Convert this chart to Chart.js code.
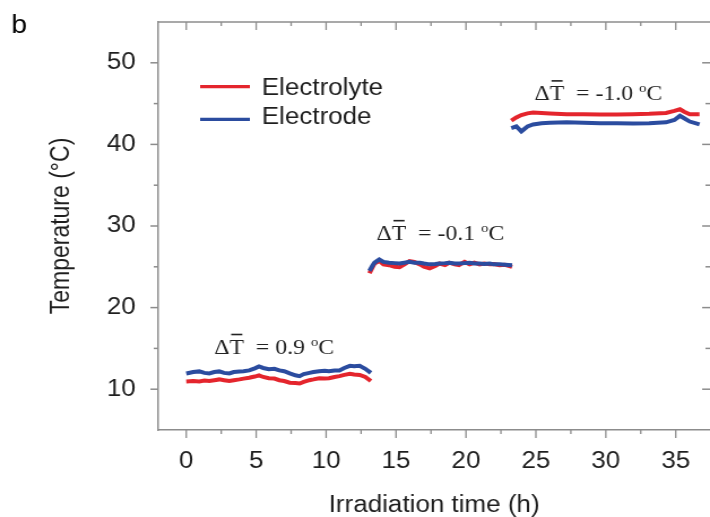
<!DOCTYPE html>
<html>
<head>
<meta charset="utf-8">
<script src="https://cdn.jsdelivr.net/npm/chart.js@4.4.1/dist/chart.umd.min.js"></script>
<style>
  html, body { margin: 0; padding: 0; background: #fff; overflow: hidden; }
</style>
</head>
<body>
<!-- the source figure is stretched sideways, so the canvas is too -->
<canvas id="chart" width="628" height="517" style="width:710px;height:517px;display:block"></canvas>
<script>
// ---- data (hours, degC) ----
const seg1Time = [0.0, 0.5, 0.93, 1.3, 1.65, 2.0, 2.36, 2.7, 3.08, 3.4, 3.8, 4.1, 4.5, 4.9, 5.2, 5.5, 5.9, 6.3, 6.66, 7.0, 7.4, 7.8, 8.1, 8.4, 8.8, 9.1, 9.5, 9.9, 10.2, 10.6, 10.95, 11.3, 11.7, 12.0, 12.4, 12.8, 13.2];
const seg1Electrolyte = [10.95, 11.0, 10.95, 11.05, 11.0, 11.1, 11.2, 11.1, 11.0, 11.1, 11.2, 11.3, 11.4, 11.55, 11.7, 11.5, 11.35, 11.3, 11.1, 11.0, 10.8, 10.75, 10.7, 10.9, 11.1, 11.2, 11.35, 11.3, 11.35, 11.5, 11.6, 11.75, 11.9, 11.8, 11.75, 11.5, 11.0];
const seg1Electrode = [11.93, 12.1, 12.18, 12.0, 11.93, 12.1, 12.18, 12.0, 11.93, 12.1, 12.18, 12.2, 12.3, 12.55, 12.78, 12.6, 12.45, 12.5, 12.3, 12.2, 11.93, 11.7, 11.6, 11.85, 12.0, 12.1, 12.2, 12.25, 12.2, 12.3, 12.3, 12.6, 12.86, 12.8, 12.86, 12.5, 12.0];

const seg2Time = [13.1, 13.3, 13.46, 13.8, 14.1, 14.5, 14.9, 15.25, 15.6, 15.96, 16.3, 16.7, 17.0, 17.4, 17.8, 18.1, 18.5, 18.8, 19.2, 19.5, 19.9, 20.26, 20.6, 20.97, 21.3, 21.7, 22.0, 22.4, 22.8, 23.3];
const seg2Electrolyte = [24.2, 24.9, 25.4, 25.7, 25.3, 25.2, 25.0, 24.95, 25.3, 25.7, 25.6, 25.3, 25.0, 24.8, 25.1, 25.4, 25.2, 25.5, 25.3, 25.2, 25.6, 25.3, 25.5, 25.3, 25.4, 25.3, 25.35, 25.2, 25.25, 25.0];
const seg2Electrode = [24.5, 25.1, 25.5, 25.9, 25.6, 25.5, 25.45, 25.4, 25.5, 25.6, 25.5, 25.5, 25.4, 25.3, 25.35, 25.4, 25.45, 25.5, 25.4, 25.4, 25.45, 25.5, 25.4, 25.4, 25.35, 25.4, 25.3, 25.3, 25.25, 25.2];

const seg3Time = [23.24, 23.6, 23.96, 24.4, 24.8, 25.4, 26.0, 27.2, 28.4, 29.6, 30.8, 31.95, 33.1, 34.3, 34.9, 35.3, 35.6, 36.0, 36.7];
const seg3Electrolyte = [42.9, 43.3, 43.6, 43.8, 43.9, 43.85, 43.8, 43.7, 43.7, 43.65, 43.65, 43.7, 43.75, 43.85, 44.1, 44.3, 44.0, 43.7, 43.7];
const seg3Electrode = [42.0, 42.2, 41.6, 42.2, 42.45, 42.6, 42.65, 42.7, 42.65, 42.6, 42.6, 42.55, 42.6, 42.7, 43.0, 43.5, 43.2, 42.8, 42.45];

const seriesNames = ['Electrolyte', 'Electrode'];
const xTicks = [0, 5, 10, 15, 20, 25, 30, 35];
const yTicks = [10, 20, 30, 40, 50];

// mean difference labels, anchored at (time, temp) of their left baseline
const deltaLabels = ['0.9', '-0.1', '-1.0'];
const deltaTime = [2.0, 13.6, 24.9];
const deltaTemp = [14.35, 28.3, 45.43];

// ---- styles ----
const RED = '#e4252d';
const BLUE = '#2b4c9f';
const AXIS = '#8c8c8c';
const TEXT = '#1e1e1e';
const SANS = '"Liberation Sans", Arial, sans-serif';
const SERIF = '"Liberation Serif", "Times New Roman", serif';

function joinSegments(times, temps) {
  let out = [];
  times.forEach((t, k) => {
    if (k > 0) out.push({ x: t[0], y: null });
    t.forEach((v, i) => out.push({ x: v, y: temps[k][i] }));
  });
  return out;
}

const electrolyteData = joinSegments([seg1Time, seg2Time, seg3Time], [seg1Electrolyte, seg2Electrolyte, seg3Electrolyte]);
const electrodeData = joinSegments([seg1Time, seg2Time, seg3Time], [seg1Electrode, seg2Electrode, seg3Electrode]);

function seg(ctx, x1, y1, x2, y2) {
  ctx.beginPath(); ctx.moveTo(x1, y1); ctx.lineTo(x2, y2); ctx.stroke();
}

function drawDelta(ctx, x, y, value) {
  const big = '21px ' + SERIF, small = '13px ' + SERIF;
  ctx.font = big;
  ctx.fillText('\u0394', x, y);
  x += ctx.measureText('\u0394').width;
  const tw = ctx.measureText('T').width;
  ctx.fillText('T', x, y);
  ctx.fillRect(x + 1.5, y - 20, tw - 3, 1.6);   // bar over T
  x += tw;
  const mid = '  = ' + value + ' ';
  ctx.fillText(mid, x, y);
  x += ctx.measureText(mid).width;
  ctx.font = small;
  ctx.fillText('o', x, y - 8);
  x += ctx.measureText('o').width;
  ctx.font = big;
  ctx.fillText('C', x, y);
}

// tick labels would otherwise push the plot area in
function noEdgePadding(s) {
  s.paddingTop = 0; s.paddingBottom = 0; s.paddingLeft = 0; s.paddingRight = 0;
}

const framePlugin = {
  id: 'frame',
  afterDraw(chart) {
    const { ctx, chartArea: a, scales: { x, y } } = chart;
    ctx.save();
    ctx.strokeStyle = AXIS;
    ctx.lineWidth = 1.5;
    seg(ctx, a.left, a.top, a.right, a.top);

    // x ticks: out at the bottom, in at the top
    ctx.lineWidth = 1.3;
    for (let v = 0; v <= x.max; v += 2.5) {
      const px = x.getPixelForValue(v);
      const len = xTicks.includes(v) ? 8 : 4;
      seg(ctx, px, a.bottom, px, a.bottom + len);
      seg(ctx, px, a.top, px, a.top + len);
    }
    // y ticks: out on the left, in on the right
    ctx.lineWidth = 1.5;
    for (let v = 10; v <= 50; v += 5) {
      const py = y.getPixelForValue(v);
      const len = yTicks.includes(v) ? 7 : 4;
      seg(ctx, a.left - len, py, a.left, py);
      seg(ctx, a.right - len, py, a.right, py);
    }

    // legend
    const colors = [RED, BLUE];
    const lineY = [86.7, 119.3];
    const textY = [95, 124];
    ctx.lineWidth = 3.2;
    ctx.font = '23px ' + SANS;
    ctx.fillStyle = TEXT;
    ctx.textBaseline = 'alphabetic';
    seriesNames.forEach((name, i) => {
      ctx.strokeStyle = colors[i];
      seg(ctx, 177, lineY[i], 221, lineY[i]);
      ctx.fillText(name, 231.5, textY[i]);
    });

    // delta T labels
    ctx.fillStyle = '#222';
    deltaLabels.forEach((lab, i) => {
      drawDelta(ctx, x.getPixelForValue(deltaTime[i]), y.getPixelForValue(deltaTemp[i]), lab);
    });

    // panel letter
    ctx.fillStyle = '#000';
    ctx.font = '25px ' + SANS;
    ctx.fillText('b', 10, 33);
    ctx.restore();
  }
};

new Chart(document.getElementById('chart'), {
  type: 'line',
  data: {
    datasets: [
      { label: seriesNames[0], data: electrolyteData, borderColor: RED, backgroundColor: RED, borderWidth: 4, pointRadius: 0, spanGaps: false, order: 2 },
      { label: seriesNames[1], data: electrodeData, borderColor: BLUE, backgroundColor: BLUE, borderWidth: 4, pointRadius: 0, spanGaps: false, order: 1 }
    ]
  },
  options: {
    responsive: false,
    animation: false,
    devicePixelRatio: 1,
    layout: { padding: { top: 22, right: 0, bottom: 0, left: 0 } },
    plugins: { legend: { display: false }, tooltip: { enabled: false } },
    scales: {
      x: {
        type: 'linear', position: 'bottom', min: -2, max: 37.45,
        grid: { display: false, drawTicks: false },
        border: { display: true, color: AXIS, width: 1.5 },
        afterBuildTicks: s => { s.ticks = xTicks.map(v => ({ value: v })); },
        afterFit: s => { s.height = 87; noEdgePadding(s); },
        ticks: { font: { family: SANS, size: 23 }, color: TEXT, padding: 18, maxRotation: 0, autoSkip: false },
        title: { display: true, text: 'Irradiation time (h)', color: TEXT, font: { family: SANS, size: 23, lineHeight: 1 }, padding: 0 }
      },
      y: {
        type: 'linear', position: 'left', min: 5, max: 55,
        grid: { display: false, drawTicks: false },
        border: { display: true, color: AXIS, width: 1.5 },
        afterBuildTicks: s => { s.ticks = yTicks.map(v => ({ value: v })); },
        afterFit: s => { s.width = 140; noEdgePadding(s); },
        ticks: { font: { family: SANS, size: 23 }, color: TEXT, padding: 20 },
        title: { display: true, text: 'Temperature (\u00b0C)', color: TEXT, font: { family: SANS, size: 23, lineHeight: 1 }, padding: { top: 43, bottom: 0 } }
      }
    }
  },
  plugins: [framePlugin]
});
</script>
</body>
</html>
